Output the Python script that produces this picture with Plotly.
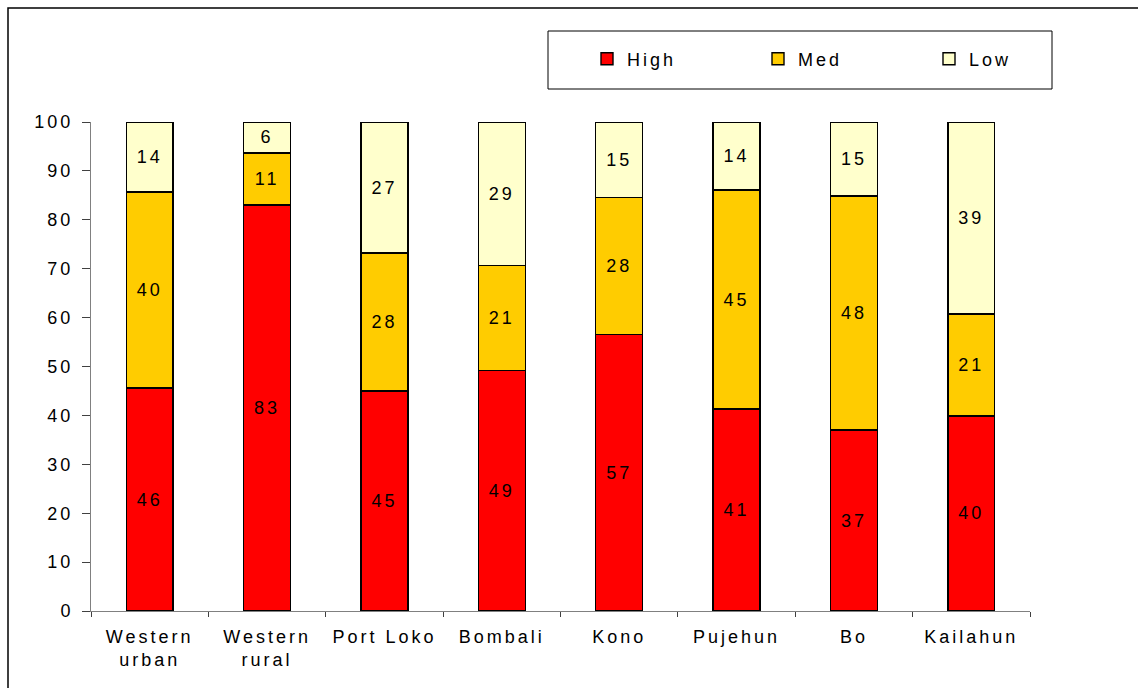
import plotly.graph_objects as go

categories = ["Western<br>urban", "Western<br>rural", "Port Loko", "Bombali", "Kono", "Pujehun", "Bo", "Kailahun"]
high = [45.6, 83.0, 45.0, 49.2, 56.6, 41.3, 37.0, 39.9]
med = [40.1, 10.7, 28.2, 21.4, 28.0, 44.8, 47.9, 20.8]
low = [14.3, 6.3, 26.8, 29.4, 15.4, 13.9, 15.1, 39.3]
yticks = [0, 10, 20, 30, 40, 50, 60, 70, 80, 90, 100]

series = [("High", high, "#FF0000"), ("Med", med, "#FFCC00"), ("Low", low, "#FFFFCC")]

W, H = 1138, 688
L, R, T, B = 91, 1030, 122, 611
FONT = "Liberation Sans, Arial"
FS = 18

fig = go.Figure()
for name, vals, col in series:
    fig.add_trace(go.Bar(
        name=name, x=categories, y=vals,
        marker=dict(color=col, line=dict(color="black", width=1.4)),
        text=[str(int(round(v))) for v in vals],
        textposition="inside", insidetextanchor="middle", textangle=0,
        insidetextfont=dict(family=FONT, size=FS, color="black"),
        hoverinfo="skip",
    ))

def px(x):
    return (x - L) / (R - L)

def py(y):
    return (B - y) / (B - T)

fig.update_layout(
    barmode="stack", bargap=0.6,
    width=W, height=H,
    margin=dict(l=L, r=W - R, t=T, b=H - B, pad=0, autoexpand=False),
    paper_bgcolor="white", plot_bgcolor="white",
    font=dict(family=FONT, size=FS, color="black"),
    uniformtext=dict(minsize=FS, mode="show"),
    showlegend=True,
    legend=dict(
        orientation="h", x=px(587), y=py(59), xanchor="left", yanchor="middle",
        entrywidth=126, entrywidthmode="pixels",
        font=dict(family=FONT, size=FS, color="black"), bgcolor="rgba(0,0,0,0)",
        traceorder="normal", borderwidth=0,
    ),
    xaxis=dict(
        showline=True, linecolor="#808080", linewidth=1,
        ticks="outside", tickson="boundaries", ticklen=5, tickcolor="#404040",
        showgrid=False, tickfont=dict(family=FONT, size=FS, color="black"),
        ticklabelstandoff=9,
    ),
    yaxis=dict(
        range=[0, 100], tickvals=yticks, showline=True, linecolor="#808080", linewidth=1,
        ticks="outside", ticklen=8, tickcolor="#404040", showgrid=False, zeroline=False,
        tickfont=dict(family=FONT, size=FS, color="black"), ticklabelstandoff=5,
    ),
    shapes=[
        dict(type="rect", xref="paper", yref="paper",
             x0=px(548), x1=px(1052), y0=py(89), y1=py(31),
             line=dict(color="black", width=1), fillcolor="rgba(0,0,0,0)", layer="below"),
        dict(type="rect", xref="paper", yref="paper",
             x0=px(8), x1=px(1300), y0=py(900), y1=py(8),
             line=dict(color="black", width=1.5), fillcolor="rgba(0,0,0,0)", layer="below"),
    ],
)

post = """
document.body.style.margin = '0';
var gd = document.getElementById('{plot_id}');
gd.querySelectorAll('text').forEach(function(t){ t.style.letterSpacing = '3px'; });
"""

fig.write_html("out.html", post_script=post, config={"displayModeBar": False})
